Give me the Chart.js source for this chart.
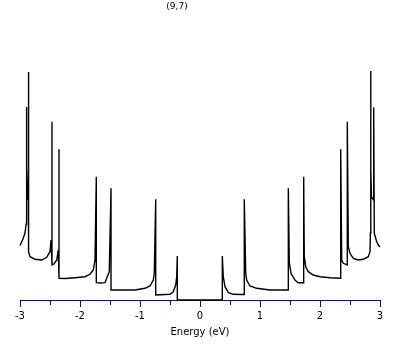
<!DOCTYPE html>
<html>
<head>
<meta charset="utf-8">
<script src="https://cdn.jsdelivr.net/npm/chart.js@4/dist/chart.umd.min.js"></script>
<style>
  body { margin: 0; background: #fff; }
  #wrap { position: relative; width: 409px; height: 345px; }
  #title { position: absolute; left: 147px; top: 1px; width: 60px; text-align: center;
           font: 9px "DejaVu Sans", sans-serif; line-height: 10px; color: #000; }
</style>
</head>
<body>
<div id="wrap">
  <div id="title">(9,7)</div>
  <canvas id="chart" width="409" height="345"></canvas>
</div>
<script>
'use strict';
// energy (eV), left to right (same x twice = vertical jump)
var energy = [
  -3.000, -2.950, -2.917, -2.897, -2.890, -2.889, -2.870, -2.860, -2.857, -2.857,
  -2.833, -2.750, -2.638, -2.555, -2.500, -2.483, -2.467, -2.467,
  -2.433, -2.388, -2.362, -2.350, -2.350,
  -2.250, -2.083, -1.917, -1.833, -1.778, -1.750, -1.728, -1.728,
  -1.667, -1.583, -1.555, -1.512, -1.483, -1.483,
  -1.333, -1.083, -0.917, -0.833, -0.778, -0.762, -0.738, -0.738,
  -0.667, -0.500, -0.445, -0.405, -0.388, -0.378, -0.378,
  0.372, 0.372, 0.388, 0.417, 0.472, 0.555, 0.700, 0.738, 0.738,
  0.762, 0.778, 0.833, 0.945, 1.167, 1.472, 1.472,
  1.488, 1.517, 1.583, 1.638, 1.728, 1.728,
  1.738, 1.762, 1.805, 1.888, 2.000, 2.167, 2.345, 2.345,
  2.362, 2.388, 2.455, 2.455,
  2.472, 2.500, 2.555, 2.638, 2.722, 2.805, 2.833, 2.840, 2.845, 2.848,
  2.858, 2.893, 2.895, 2.905, 2.945, 2.972, 3.000
];
// density of states (arb. units)
var dos = [
  5.45, 6.1, 6.7, 7.6, 19.3, 10.0, 10.3, 13.0, 22.8, 4.8,
  4.33, 4.07, 4.0, 4.27, 4.83, 6.0, 17.83, 3.5,
  3.6, 4.0, 5.0, 15.07, 2.17,
  2.15, 2.23, 2.33, 2.57, 3.0, 4.0, 12.33, 1.73,
  1.7, 1.73, 2.17, 2.83, 11.17, 1.0,
  1.0, 1.0, 1.17, 1.4, 2.0, 2.67, 10.07, 0.5,
  0.53, 0.57, 0.83, 1.5, 2.33, 4.4, 0,
  0, 4.4, 2.33, 1.33, 0.73, 0.57, 0.55, 0.55, 10.07,
  2.67, 2.0, 1.4, 1.17, 1.0, 1.0, 11.17,
  3.8, 2.67, 2.0, 1.73, 1.73, 12.33,
  4.33, 3.33, 2.83, 2.5, 2.33, 2.23, 2.17, 15.07,
  4.0, 3.67, 3.5, 17.83,
  5.33, 4.67, 4.17, 4.0, 4.07, 4.33, 4.83, 6.7, 22.9, 13.0,
  10.3, 10.0, 19.27, 6.67, 5.83, 5.5, 5.3
];
var majorTicks = [-3, -2, -1, 0, 1, 2, 3];
var minorTicks = [-3, -2.5, -2, -1.5, -1, -0.5, 0, 0.5, 1, 1.5, 2, 2.5, 3];
var axisBlue = '#0000d0';

var points = [];
for (var i = 0; i < energy.length; i++) {
  points.push({ x: energy[i], y: dos[i] });
}

var ctx = document.getElementById('chart').getContext('2d');
var chart = new Chart(ctx, {
  type: 'scatter',
  data: {
    datasets: [{
      data: points,
      showLine: true,
      borderColor: '#000',
      borderWidth: 1.4,
      pointRadius: 0,
      tension: 0,
      clip: false
    }]
  },
  options: {
    responsive: false,
    animation: false,
    devicePixelRatio: 1,
    layout: { padding: { top: 30, left: 20, right: 29, bottom: 0 } },
    plugins: { legend: { display: false }, tooltip: { enabled: false } },
    scales: {
      x: {
        type: 'linear',
        position: 'bottom',
        weight: 1,
        min: -3,
        max: 3,
        afterBuildTicks: function (scale) {
          scale.ticks = majorTicks.map(function (v) { return { value: v }; });
        },
        afterFit: function (scale) { scale.height = 45; },
        grid: { drawOnChartArea: false, tickLength: 7, tickColor: axisBlue, tickWidth: 1 },
        border: { color: axisBlue, width: 1 },
        ticks: { color: '#000', font: { family: 'DejaVu Sans', size: 10 }, padding: 3, maxRotation: 0, autoSkip: false },
        title: { display: true, text: 'Energy (eV)', color: '#000',
                 font: { family: 'DejaVu Sans', size: 10 }, padding: { top: 2, bottom: 7 } }
      },
      // minor ticks every 0.5, shorter
      x2: {
        type: 'linear',
        position: 'bottom',
        weight: 0,
        min: -3,
        max: 3,
        afterBuildTicks: function (scale) {
          scale.ticks = minorTicks.map(function (v) { return { value: v }; });
        },
        afterFit: function (scale) { scale.height = 0; },
        grid: { drawOnChartArea: false, tickLength: 5, tickColor: axisBlue, tickWidth: 1 },
        border: { display: false },
        ticks: { display: false }
      },
      y: { display: false, min: 0, max: 27 }
    }
  }
});
</script>
</body>
</html>
